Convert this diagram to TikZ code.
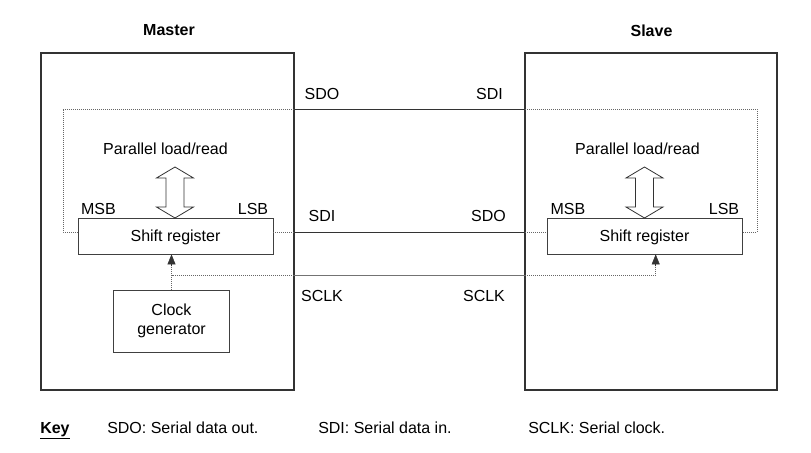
\documentclass[tikz,border=0pt]{standalone}
\usepackage{fontspec}
\setmainfont{Liberation Sans}
\usetikzlibrary{arrows.meta}
\begin{document}
\begin{tikzpicture}[x=0.75pt,y=-0.75pt,
  font=\fontsize{12}{14}\selectfont,
  bigbox/.style={draw=black!80,line width=1.5pt,minimum width={#1*0.75pt},minimum height={337*0.75pt},inner sep=0pt},
  regbox/.style={draw=black!75,line width=0.6pt,minimum width={195*0.75pt},minimum height={36*0.75pt},inner sep=0pt,text depth=0pt},
  clkbox/.style={draw=black!75,line width=0.6pt,minimum width={116*0.75pt},minimum height={62*0.75pt},inner sep=0pt,align=center},
  wire/.style={draw=black!80,line width=0.6pt},
  dots/.style={draw=black!60,line width=0.6pt,dash pattern=on 0.6pt off 0.9pt},
  dblarrow/.style={draw=black!80,line width=0.6pt,fill=white},
  lbl/.style={inner sep=0pt},
  tip/.style={-{Triangle[length=7.5pt,width=6pt]}}
]
\useasboundingbox (0,0) rectangle (811,453);
% main boxes
\node[bigbox=253] (master) at (167.5,221.5) {};
\node[bigbox=252] (slave) at (651,221.5) {};
\node[lbl,font=\fontsize{12}{14}\selectfont\bfseries] (mt) at (169,30.5) {Master};
\node[lbl,font=\fontsize{12}{14}\selectfont\bfseries] (st) at (651.5,30.5) {Slave};
% shift registers
\node[regbox] (msr) at (175.5,236) {Shift register};
\node[regbox] (ssr) at (644.5,236) {Shift register};
\node[clkbox] (clk) at (171.5,321) {Clock\\generator};
% double arrows
\foreach \cx/\nm in {175/mda,644.5/sda}{
  \coordinate (\nm) at (\cx,192.5);
  \draw[dblarrow] (\cx,167) -- ++(18.5,11) -- ++(-9.5,0) -- ++(0,29) -- ++(9.5,0)
    -- (\cx,218) -- ++(-18.5,-11) -- ++(9.5,0) -- ++(0,-29) -- ++(-9.5,0) -- cycle;
}
\node[lbl] (mpl) at (165.5,148.5) {Parallel load/read};
\node[lbl] (spl) at (637.5,148.5) {Parallel load/read};
\node[lbl] (mmsb) at (98.5,208.5) {MSB};
\node[lbl] (mlsb) at (253,208.5) {LSB};
\node[lbl] (smsb) at (568,208.5) {MSB};
\node[lbl] (slsb) at (724,208.5) {LSB};
% coordinates
\coordinate (mtl) at (63,109);
\coordinate (mbl) at (63,232);
\coordinate (mte) at (294,109);
\coordinate (mre) at (294,232);
\coordinate (mce) at (294,275.5);
\coordinate (mcc) at (171.5,275.5);
\coordinate (ste) at (525,109);
\coordinate (str) at (757,109);
\coordinate (sbr) at (757,232);
\coordinate (sle) at (525,232);
\coordinate (sce) at (525,275.5);
\coordinate (scc) at (655.7,275.5);
% solid lines between boxes
\draw[wire] (mte) -- (ste);
\draw[wire] (mre) -- (sle);
\draw[draw=black!55,line width=1.2pt] (mce) -- (sce);
% dotted inside master
\draw[dots] (mte) -- (mtl) -- (mbl) -- (msr.west |- mbl);
\draw[dots] (msr.east |- mre) -- (mre);
\draw[dots] (mce) -- (mcc);
\draw[dots] (clk.north) -- (clk.north |- msr.south);
\draw[tip,draw=black!80,fill=black] ([yshift=-9pt]clk.north |- msr.south) -- (clk.north |- msr.south);
% dotted inside slave
\draw[dots] (ste) -- (str) -- (sbr) -- (ssr.east |- sbr);
\draw[dots] (sle) -- (ssr.west |- sle);
\draw[dots] (sce) -- (scc) -- (scc |- ssr.south);
\draw[tip,draw=black!80,fill=black] ([yshift=-9pt]scc |- ssr.south) -- (scc |- ssr.south);
% signal labels
\node[lbl] (l1) at (322,94) {SDO};
\node[lbl] (l2) at (489.5,94) {SDI};
\node[lbl] (l3) at (322,216) {SDI};
\node[lbl] (l4) at (488.5,216) {SDO};
\node[lbl] (l5) at (322,296) {SCLK};
\node[lbl] (l6) at (484,296) {SCLK};
% key
\node[lbl,anchor=base west,font=\fontsize{12}{14}\selectfont\bfseries] (key) at (40,433) {\underline{Key}};
\node[lbl,anchor=base west] (k1) at (107,433) {SDO: Serial data out.};
\node[lbl,anchor=base west] (k2) at (318,433) {SDI: Serial data in.};
\node[lbl,anchor=base west] (k3) at (528,433) {SCLK: Serial clock.};
\end{tikzpicture}
\end{document}
